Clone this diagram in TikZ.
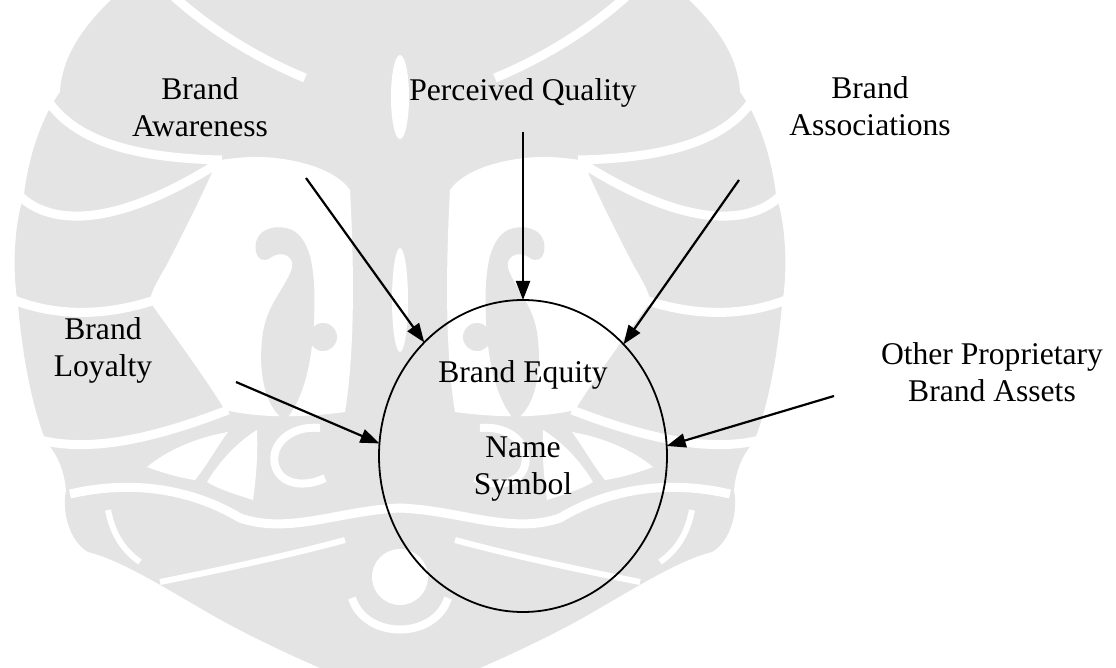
\documentclass[tikz,border=0pt]{standalone}
\usepackage{fontspec}
\setmainfont{Liberation Serif}
\usetikzlibrary{arrows.meta,shapes.geometric}

\definecolor{wmgrey}{gray}{0.895}

% Left half of the ornamental background (mirrored about x = 400)
\newcommand\wmbody{%
  \fill[wmgrey] (401,0) -- (111,0)
    .. controls (85,25) and (62,55) .. (60,92)
    .. controls (40,120) and (28,160) .. (24,195)
    .. controls (14,225) and (12,270) .. (18,305)
    .. controls (22,350) and (30,400) .. (46,442)
    .. controls (58,455) and (64,470) .. (66,490)
    .. controls (62,510) and (68,540) .. (88,552)
    .. controls (120,560) and (160,585) .. (200,608)
    .. controls (240,632) and (290,655) .. (320,668)
    -- (401,668) -- cycle;}

\newcommand\wmcuts{%
  % open field around the upper connectors
  \fill[white] (350,190)
    .. controls (335,168) and (290,156) .. (250,157)
    .. controls (235,158) and (224,159) .. (217,161)
    .. controls (205,190) and (180,240) .. (165,268)
    .. controls (155,285) and (150,295) .. (150,302)
    .. controls (170,330) and (200,370) .. (225,410)
    .. controls (260,418) and (300,418) .. (345,412)
    .. controls (352,370) and (356,300) .. (350,190) -- cycle;
  % sweeping bands between the leaves
  \draw[band] (171,-6) .. controls (205,25) and (250,55) .. (305,78);
  \draw[band] (46,98) .. controls (70,135) and (120,158) .. (222,160);
  \draw[band] (16,192) .. controls (45,225) and (110,232) .. (220,162);
  \draw[band] (14,300) .. controls (60,318) and (110,315) .. (155,300);
  \draw[band] (40,440) .. controls (90,452) and (150,440) .. (228,410);
  \draw[band] (70,494) .. controls (130,480) and (190,488) .. (240,518)
    .. controls (290,535) and (340,510) .. (401,508);
  \draw[band,line width=3pt] (160,582) .. controls (220,570) and (290,555) .. (345,540);
  \draw[band,line width=3pt] (108,510) .. controls (112,530) and (120,548) .. (140,562);
  % petals in the lower leaf
  \fill[white] (147,467) .. controls (170,448) and (200,437) .. (228,432)
    .. controls (215,450) and (205,468) .. (195,480)
    .. controls (180,478) and (160,472) .. (147,467) -- cycle;
  \fill[white] (207,482) .. controls (220,460) and (240,440) .. (257,430)
    .. controls (258,455) and (256,480) .. (253,500)
    .. controls (238,495) and (220,490) .. (207,482) -- cycle;
  \draw[band,line width=4pt] (320,428) .. controls (290,425) and (270,445) .. (275,465)
    .. controls (280,485) and (305,488) .. (325,478);}

\newcommand\wmdetail{%
  % hooked bud and dot inside the open field
  \fill[wmgrey] (256,252) .. controls (252,232) and (272,222) .. (292,230)
    .. controls (312,240) and (316,275) .. (314,320)
    .. controls (312,370) and (300,405) .. (285,420)
    .. controls (268,410) and (258,380) .. (262,340)
    .. controls (265,305) and (285,290) .. (292,268)
    .. controls (295,255) and (280,250) .. (270,258)
    .. controls (264,262) and (258,260) .. (256,252) -- cycle;
  \fill[wmgrey] (323,337) circle [radius=7pt];}

\begin{document}
\begin{tikzpicture}[x=0.5pt,y=-0.5pt,
  band/.style={white,line width=4.5pt},
  lbl/.style={font=\fontsize{15.8}{18.5}\selectfont,align=center,anchor=base,inner sep=0pt},
  feed/.style={line width=1.1pt,-{Triangle[length=9.5pt,width=7pt]}},
  hub/.style={draw,ellipse,line width=0.9pt,minimum width=144pt,minimum height=156pt,
    inner sep=0pt,outer sep=0pt}]
\useasboundingbox (0,0) rectangle (1116,668);

% ornamental background
\wmbody
\begin{scope}[shift={(800,0)},xscale=-1]\wmbody\end{scope}
\wmcuts
\begin{scope}[shift={(800,0)},xscale=-1]\wmcuts\end{scope}
\wmdetail
\begin{scope}[shift={(800,0)},xscale=-1]\wmdetail\end{scope}
\fill[white] (400,97) ellipse [x radius=4.5pt,y radius=21pt];
\fill[white] (400,300) ellipse [x radius=4pt,y radius=26pt];
\fill[white] (400,577) circle [radius=14pt];
\draw[band,line width=4pt] (352,598) .. controls (365,640) and (435,640) .. (448,598);

% central construct (two-line labels are placed by their last baseline)
\node[hub] (eq) at (523,456) {};
\node[lbl] (equity) at (523,383) {Brand Equity};
\node[lbl] (sym) at (523,495) {Name\\Symbol};

% contributing dimensions
\node[lbl] (aware) at (200,137) {Brand\\Awareness};
\node[lbl] (pq) at (523,101) {Perceived Quality};
\node[lbl] (assoc) at (870,136) {Brand\\Associations};
\node[lbl] (loyal) at (103,377) {Brand\\Loyalty};
\node[lbl] (other) at (992,402) {Other Proprietary\\Brand Assets};

% arrow tails
\coordinate (tAw) at (306,178);
\coordinate (tPq) at (523,132);
\coordinate (tAs) at (739,180);
\coordinate (tLo) at (236,382);
\coordinate (tOt) at (834,396);

\draw[feed] (tAw) -- (eq.131);
\draw[feed] (tPq) -- (eq.90);
\draw[feed] (tAs) -- (eq.48);
\draw[feed] (tLo) -- (eq.175);
\draw[feed] (tOt) -- (eq.4);
\end{tikzpicture}
\end{document}
